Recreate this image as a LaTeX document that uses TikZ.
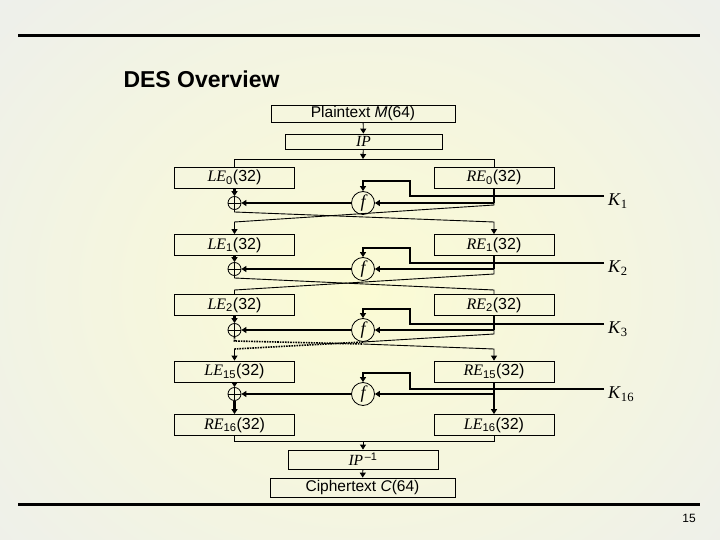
\documentclass[tikz,border=0pt]{standalone}
\usepackage{fontspec}
\setmainfont{Liberation Serif}
\setsansfont{Liberation Sans}
\usetikzlibrary{arrows.meta,positioning}
\definecolor{pagebg}{HTML}{EDEFEC}
\definecolor{glow}{HTML}{FBFBD4}
\newcommand\regtxt[2]{\textit{#1}\textsubscript{\sffamily #2}\sffamily(32)}

\begin{document}
\begin{tikzpicture}[x=1pt, y=-1pt,
    >={Triangle[length=5pt,width=6pt]},
    thn/.style={line width=0.9pt},
    thk/.style={line width=2.2pt},
    dotline/.style={line width=1.6pt, densely dotted},
    regbox/.style={draw, line width=0.8pt, inner sep=0pt, minimum width=120pt, minimum height=21pt,
      font=\fontsize{16}{16}\selectfont},
    wide/.style={draw, line width=0.8pt, inner sep=0pt, font=\fontsize{15.5}{15.5}\selectfont},
    fcirc/.style={circle, draw, line width=0.8pt, inner sep=0pt, minimum size=23pt,
      font=\fontsize{18}{18}\selectfont\itshape},
    xorc/.style={circle, draw, line width=0.8pt, inner sep=0pt, minimum size=13pt,
      path picture={\draw[line width=0.8pt] (path picture bounding box.north) -- (path picture bounding box.south)
        (path picture bounding box.west) -- (path picture bounding box.east);}},
    keylbl/.style={inner sep=0pt, font=\fontsize{18}{18}\selectfont}]

  \useasboundingbox (0,0) rectangle (720,540);
  \begin{scope}
    \clip (0,0) rectangle (720,540);
    \fill[pagebg] (0,0) rectangle (720,540);
    \shade[inner color=glow, outer color=pagebg] (-160,-150) rectangle (880,730);
  \end{scope}

  % slide frame
  \draw[line width=3pt] (18,35.5) -- (700,35.5);
  \draw[line width=3pt] (18,504.5) -- (700,504.5);
  \node[anchor=west, font=\fontsize{23}{23}\selectfont\sffamily\bfseries] (title) at (120,79) {DES Overview};
  \node[font=\fontsize{12}{12}\selectfont\sffamily] (pgno) at (689,518) {15};

  % input side
  \node[wide, minimum width=184pt, minimum height=17pt] (pt) at (363,113.5) {\sffamily Plaintext \textit{M}(64)};
  \node[wide, minimum width=157pt, minimum height=15pt] (ip) at (363.5,141.5) {\textit{IP}};
  \coordinate (sp) at (363,159);
  \coordinate (spl) at (234.5,159);
  \coordinate (spr) at (494,159);
  \draw[thn,->] (pt) -- (ip);
  \draw[thn,->] (ip) -- (sp);

  % the rounds
  \foreach \i/\s/\by/\fy/\ky/\uy in {0/1/177.5/203/196/181, 1/2/245/269/263/248,
                                    2/3/305/330/324/309, 15/16/371.5/394/389/373} {
    \node[regbox] (le\i) at (234.5,\by) {\regtxt{LE}{\i}};
    \node[regbox] (re\i) at (494,\by) {\regtxt{RE}{\i}};
    \node[fcirc] (f\i) at (363,\fy) {f};
    \node[xorc] (x\i) at (234.5,\fy) {};
    \coordinate (b\i) at (494,\fy);
    \coordinate (kend\i) at (604,\ky);
    \node[keylbl, right=4pt of kend\i, yshift=-5pt] (k\s) {\textit{K}\textsubscript{\s}};
    \draw[thk] (re\i) -- (b\i);
    \draw[thk,->] (b\i) -- (f\i);
    \draw[thk,->] (f\i) -- (x\i);
    \draw[thk,->] (le\i) -- (x\i);
    \draw[thk,->] (kend\i) -- (410,\ky) -- (410,\uy) -- (363,\uy) -- (f\i);
  }
  \draw[thn] (le0) -- (spl) -- (spr) -- (re0);

  % round 1 swap
  \coordinate (x0b) at (234.5,212);
  \coordinate (c0r) at (494,222);
  \coordinate (b0b) at (494,205);
  \coordinate (c0l) at (234.5,222);
  \draw[thn,->] (x0) -- (x0b) -- (c0r) -- (re1);
  \draw[thn,->] (b0) -- (b0b) -- (c0l) -- (le1);

  % round 2 swap
  \coordinate (x1b) at (234.5,278);
  \coordinate (c1r) at (494,290);
  \coordinate (b1b) at (494,274);
  \coordinate (c1l) at (234.5,290);
  \draw[thn] (x1) -- (x1b) -- (c1r) -- (re2);
  \draw[thn] (b1) -- (b1b) -- (c1l) -- (le2);

  % rounds 3..15 left out
  \coordinate (x2b) at (234.5,341);
  \coordinate (m2a) at (363,344);
  \coordinate (c2r) at (494,349);
  \coordinate (b2b) at (494,334);
  \coordinate (m2b) at (363,342);
  \coordinate (c2l) at (234.5,349);
  \draw[dotline] (x2) -- (x2b) -- (m2a);
  \draw[thn,->] (m2a) -- (c2r) -- (re15);
  \draw[thn] (b2) -- (b2b) -- (m2b);
  \draw[dotline] (m2b) -- (c2l);
  \draw[thn,->] (c2l) -- (le15);

  % output side
  \node[regbox] (re16) at (234.5,425) {\regtxt{RE}{16}};
  \node[regbox] (le16) at (494,425) {\regtxt{LE}{16}};
  \draw[thk,->] (x15) -- (re16);
  \draw[thk,->] (re15) -- (le16);
  \node[wide, minimum width=150pt, minimum height=19pt] (ipi) at (363,459.5) {\textit{IP}\textsuperscript{\,\sffamily –1}};
  \node[wide, minimum width=185pt, minimum height=19pt] (ct) at (362.5,487.5) {\sffamily Ciphertext \textit{C}(64)};
  \coordinate (mg) at (363,441);
  \coordinate (mgl) at (234.5,441);
  \coordinate (mgr) at (494,441);
  \draw[thn] (re16) -- (mgl) -- (mgr) -- (le16);
  \draw[thn,->] (mg) -- (ipi);
  \draw[thn,->] (ipi) -- (ct);
\end{tikzpicture}
\end{document}
